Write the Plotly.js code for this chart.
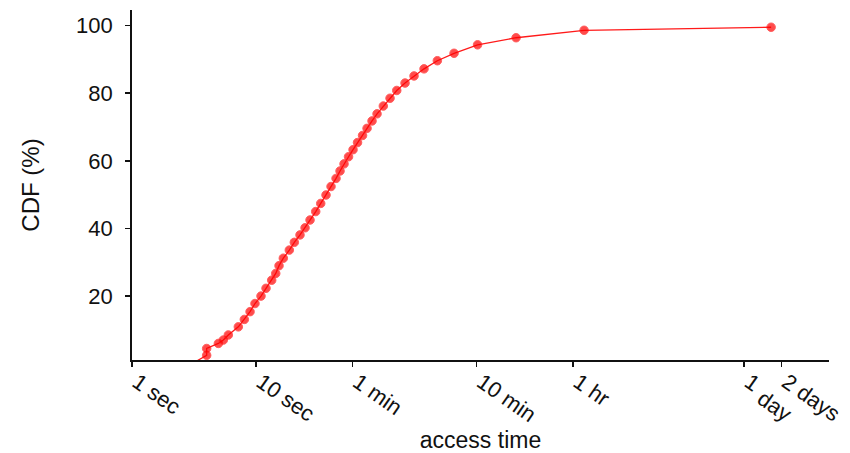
<!DOCTYPE html>
<html>
<head>
<meta charset="utf-8">
<script src="https://cdn.plot.ly/plotly-3.0.1.min.js"></script>
<style>
  html, body { margin: 0; padding: 0; background: #fff; }
  #chart { width: 850px; height: 453px; }
</style>
</head>
<body>
<div id="chart"></div>
<script>
// Access time in seconds and the cumulative share of accesses (%)
const accessSeconds = [
  3.05, 4.0, 4.0, 4.97, 5.45, 5.98, 7.2, 8.05, 8.95, 9.81,
  10.97, 12.04, 13.38, 14.42, 15.33, 16.6, 18.56, 20.36, 22.63, 24.85,
  27.26, 30.3, 33.25, 36.68, 40.25, 44.18, 47.58, 51.25, 55.72, 60.57,
  65.84, 72.25, 78.56, 86.19, 94.58, 106.3, 120.4, 136.4, 159.1, 188.0,
  226.3, 289.8, 395.2, 611.5, 1250, 4418, 142300
];
const cdfPercent = [
  0, 2.5, 4.5, 6.0, 7.0, 8.5, 10.9, 13.1, 15.4, 17.8,
  20.0, 22.3, 24.7, 26.7, 29.0, 31.2, 33.6, 35.9, 38.1, 40.2,
  42.5, 45.0, 47.4, 49.9, 52.4, 54.8, 57.0, 59.1, 61.2, 63.3,
  65.4, 67.5, 69.6, 71.8, 73.9, 76.2, 78.5, 80.8, 83.0, 85.1,
  87.2, 89.6, 91.8, 94.3, 96.4, 98.6, 99.5
];

// Human-readable time ticks; "day" of the 1-day tick is set on its own lowered line
const tickSeconds = [1, 10, 60, 600, 3600, 86400, 172800];
const tickLabels = ['1 sec', '10 sec', '1 min', '10 min', '1 hr', '1', '2 days'];
const yTicks = [20, 40, 60, 80, 100];

const FONT = '"Liberation Sans", Arial, Helvetica, sans-serif';
const INK = '#111111';
const TICK_ANGLE = 35;

// the curve starts on the axis; that first vertex carries no dot
const markerSizes = accessSeconds.map((_, i) => (i === 0 ? 0 : 8.5));

const trace = {
  x: accessSeconds,
  y: cdfPercent,
  type: 'scatter',
  mode: 'lines+markers',
  line: { color: '#ff1a1a', width: 1.3 },
  marker: { color: '#ff0000', size: markerSizes },
  hoverinfo: 'x+y'
};

const layout = {
  width: 850,
  height: 453,
  margin: { l: 132, r: 21, t: 10, b: 93 },
  paper_bgcolor: '#ffffff',
  plot_bgcolor: '#ffffff',
  showlegend: false,
  font: { family: FONT, color: INK, size: 22 },
  xaxis: {
    type: 'log',
    range: [0, 5.62],
    tickmode: 'array',
    tickvals: tickSeconds,
    ticktext: tickLabels,
    tickangle: TICK_ANGLE,
    ticks: 'outside',
    ticklen: 5,
    tickwidth: 1.5,
    tickcolor: INK,
    ticklabelstandoff: -6,
    ticklabelshift: 5,
    showgrid: false,
    zeroline: false,
    showline: true,
    linecolor: INK,
    linewidth: 1.8,
    tickfont: { family: FONT, size: 22, color: INK },
    automargin: false,
    title: { text: 'access time', font: { family: FONT, size: 23, color: INK }, standoff: 6 }
  },
  yaxis: {
    range: [1.1, 104.6],
    tickmode: 'array',
    tickvals: yTicks,
    ticks: 'outside',
    ticklen: 5,
    tickwidth: 1.5,
    tickcolor: INK,
    ticklabelstandoff: 8,
    showgrid: false,
    zeroline: false,
    showline: true,
    linecolor: INK,
    linewidth: 1.8,
    tickfont: { family: FONT, size: 22, color: INK },
    automargin: false,
    title: { text: 'CDF (%)', font: { family: FONT, size: 24, color: INK }, standoff: 30 }
  },
  annotations: [{
    // second word of the 1-day tick label
    text: 'day',
    xref: 'x',
    yref: 'paper',
    x: Math.log10(86400) + 0.24,
    y: -0.13,
    xanchor: 'center',
    yanchor: 'middle',
    showarrow: false,
    textangle: TICK_ANGLE,
    font: { family: FONT, size: 22, color: INK }
  }]
};

Plotly.newPlot('chart', [trace], layout, { displayModeBar: false, staticPlot: true });
</script>
</body>
</html>
